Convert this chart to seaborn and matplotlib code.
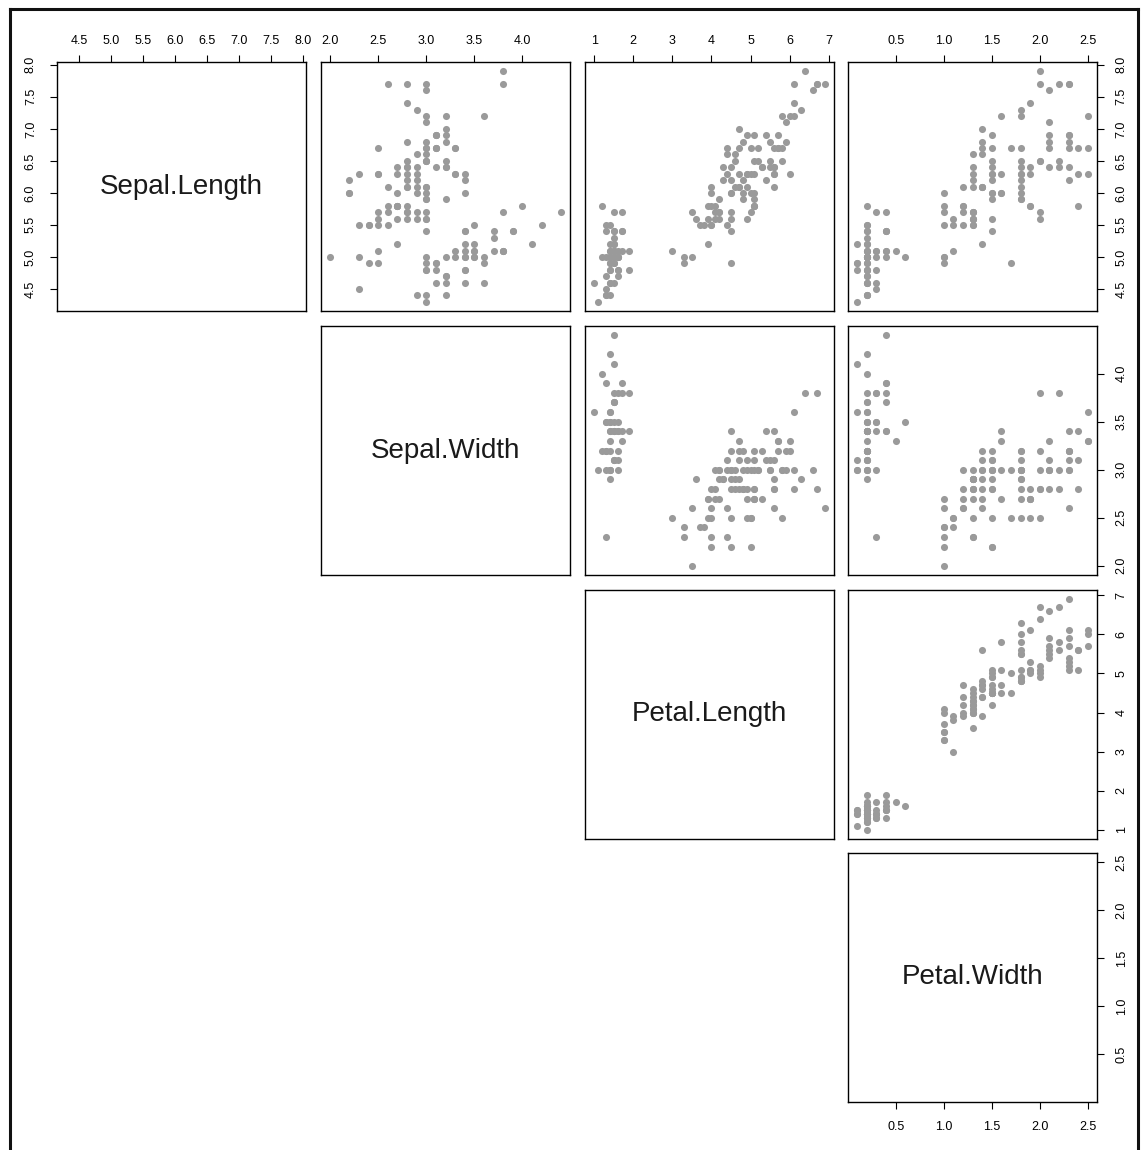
import matplotlib
matplotlib.use("Agg")
import matplotlib.pyplot as plt
from matplotlib.lines import Line2D
import pandas as pd
import seaborn as sns

# Edgar Anderson's iris measurements (150 flowers)
sepal_length = [
    5.1, 4.9, 4.7, 4.6, 5.0, 5.4, 4.6, 5.0, 4.4, 4.9, 5.4, 4.8, 4.8, 4.3, 5.8, 5.7, 5.4, 5.1, 5.7, 5.1,
    5.4, 5.1, 4.6, 5.1, 4.8, 5.0, 5.0, 5.2, 5.2, 4.7, 4.8, 5.4, 5.2, 5.5, 4.9, 5.0, 5.5, 4.9, 4.4, 5.1,
    5.0, 4.5, 4.4, 5.0, 5.1, 4.8, 5.1, 4.6, 5.3, 5.0,
    7.0, 6.4, 6.9, 5.5, 6.5, 5.7, 6.3, 4.9, 6.6, 5.2, 5.0, 5.9, 6.0, 6.1, 5.6, 6.7, 5.6, 5.8, 6.2, 5.6,
    5.9, 6.1, 6.3, 6.1, 6.4, 6.6, 6.8, 6.7, 6.0, 5.7, 5.5, 5.5, 5.8, 6.0, 5.4, 6.0, 6.7, 6.3, 5.6, 5.5,
    5.5, 6.1, 5.8, 5.0, 5.6, 5.7, 5.7, 6.2, 5.1, 5.7,
    6.3, 5.8, 7.1, 6.3, 6.5, 7.6, 4.9, 7.3, 6.7, 7.2, 6.5, 6.4, 6.8, 5.7, 5.8, 6.4, 6.5, 7.7, 7.7, 6.0,
    6.9, 5.6, 7.7, 6.3, 6.7, 7.2, 6.2, 6.1, 6.4, 7.2, 7.4, 7.9, 6.4, 6.3, 6.1, 7.7, 6.3, 6.4, 6.0, 6.9,
    6.7, 6.9, 5.8, 6.8, 6.7, 6.7, 6.3, 6.5, 6.2, 5.9,
]
sepal_width = [
    3.5, 3.0, 3.2, 3.1, 3.6, 3.9, 3.4, 3.4, 2.9, 3.1, 3.7, 3.4, 3.0, 3.0, 4.0, 4.4, 3.9, 3.5, 3.8, 3.8,
    3.4, 3.7, 3.6, 3.3, 3.4, 3.0, 3.4, 3.5, 3.4, 3.2, 3.1, 3.4, 4.1, 4.2, 3.1, 3.2, 3.5, 3.6, 3.0, 3.4,
    3.5, 2.3, 3.2, 3.5, 3.8, 3.0, 3.8, 3.2, 3.7, 3.3,
    3.2, 3.2, 3.1, 2.3, 2.8, 2.8, 3.3, 2.4, 2.9, 2.7, 2.0, 3.0, 2.2, 2.9, 2.9, 3.1, 3.0, 2.7, 2.2, 2.5,
    3.2, 2.8, 2.5, 2.8, 2.9, 3.0, 2.8, 3.0, 2.9, 2.6, 2.4, 2.4, 2.7, 2.7, 3.0, 3.4, 3.1, 2.3, 3.0, 2.5,
    2.6, 3.0, 2.6, 2.3, 2.7, 3.0, 2.9, 2.9, 2.5, 2.8,
    3.3, 2.7, 3.0, 2.9, 3.0, 3.0, 2.5, 2.9, 2.5, 3.6, 3.2, 2.7, 3.0, 2.5, 2.8, 3.2, 3.0, 3.8, 2.6, 2.2,
    3.2, 2.8, 2.8, 2.7, 3.3, 3.2, 2.8, 3.0, 2.8, 3.0, 2.8, 3.8, 2.8, 2.8, 2.6, 3.0, 3.4, 3.1, 3.0, 3.1,
    3.1, 3.1, 2.7, 3.2, 3.3, 3.0, 2.5, 3.0, 3.4, 3.0,
]
petal_length = [
    1.4, 1.4, 1.3, 1.5, 1.4, 1.7, 1.4, 1.5, 1.4, 1.5, 1.5, 1.6, 1.4, 1.1, 1.2, 1.5, 1.3, 1.4, 1.7, 1.5,
    1.7, 1.5, 1.0, 1.7, 1.9, 1.6, 1.6, 1.5, 1.4, 1.6, 1.6, 1.5, 1.5, 1.4, 1.5, 1.2, 1.3, 1.4, 1.3, 1.5,
    1.3, 1.3, 1.3, 1.6, 1.9, 1.4, 1.6, 1.4, 1.5, 1.4,
    4.7, 4.5, 4.9, 4.0, 4.6, 4.5, 4.7, 3.3, 4.6, 3.9, 3.5, 4.2, 4.0, 4.7, 3.6, 4.4, 4.5, 4.1, 4.5, 3.9,
    4.8, 4.0, 4.9, 4.7, 4.3, 4.4, 4.8, 5.0, 4.5, 3.5, 3.8, 3.7, 3.9, 5.1, 4.5, 4.5, 4.7, 4.4, 4.1, 4.0,
    4.4, 4.6, 4.0, 3.3, 4.2, 4.2, 4.2, 4.3, 3.0, 4.1,
    6.0, 5.1, 5.9, 5.6, 5.8, 6.6, 4.5, 6.3, 5.8, 6.1, 5.1, 5.3, 5.5, 5.0, 5.1, 5.3, 5.5, 6.7, 6.9, 5.0,
    5.7, 4.9, 6.7, 4.9, 5.7, 6.0, 4.8, 4.9, 5.6, 5.8, 6.1, 6.4, 5.6, 5.1, 5.6, 6.1, 5.6, 5.5, 4.8, 5.4,
    5.6, 5.1, 5.1, 5.9, 5.7, 5.2, 5.0, 5.2, 5.4, 5.1,
]
petal_width = [
    0.2, 0.2, 0.2, 0.2, 0.2, 0.4, 0.3, 0.2, 0.2, 0.1, 0.2, 0.2, 0.1, 0.1, 0.2, 0.4, 0.4, 0.3, 0.3, 0.3,
    0.2, 0.4, 0.2, 0.5, 0.2, 0.2, 0.4, 0.2, 0.2, 0.2, 0.2, 0.4, 0.1, 0.2, 0.2, 0.2, 0.2, 0.1, 0.2, 0.2,
    0.3, 0.3, 0.2, 0.6, 0.4, 0.3, 0.2, 0.2, 0.2, 0.2,
    1.4, 1.5, 1.5, 1.3, 1.5, 1.3, 1.6, 1.0, 1.3, 1.4, 1.0, 1.5, 1.0, 1.4, 1.3, 1.4, 1.5, 1.0, 1.5, 1.1,
    1.8, 1.3, 1.5, 1.2, 1.3, 1.4, 1.4, 1.7, 1.5, 1.0, 1.1, 1.0, 1.2, 1.6, 1.5, 1.6, 1.5, 1.3, 1.3, 1.3,
    1.2, 1.4, 1.2, 1.0, 1.3, 1.2, 1.3, 1.3, 1.1, 1.3,
    2.5, 1.9, 2.1, 1.8, 2.2, 2.1, 1.7, 1.8, 1.8, 2.5, 2.0, 1.9, 2.1, 2.0, 2.4, 2.3, 1.8, 2.2, 2.3, 1.5,
    2.3, 2.0, 2.0, 1.8, 2.1, 1.8, 1.8, 1.8, 2.1, 1.6, 1.9, 2.0, 2.2, 1.5, 1.4, 2.3, 2.4, 1.8, 1.8, 2.1,
    2.4, 2.3, 1.9, 2.3, 2.5, 2.3, 1.9, 2.0, 2.3, 1.8,
]

var_names = ["Sepal.Length", "Sepal.Width", "Petal.Length", "Petal.Width"]
tick_values = [
    [4.5, 5.0, 5.5, 6.0, 6.5, 7.0, 7.5, 8.0],
    [2.0, 2.5, 3.0, 3.5, 4.0],
    [1, 2, 3, 4, 5, 6, 7],
    [0.5, 1.0, 1.5, 2.0, 2.5],
]
tick_labels = [
    ["4.5", "5.0", "5.5", "6.0", "6.5", "7.0", "7.5", "8.0"],
    ["2.0", "2.5", "3.0", "3.5", "4.0"],
    ["1", "2", "3", "4", "5", "6", "7"],
    ["0.5", "1.0", "1.5", "2.0", "2.5"],
]

iris = pd.DataFrame({
    var_names[0]: sepal_length,
    var_names[1]: sepal_width,
    var_names[2]: petal_length,
    var_names[3]: petal_width,
})

sns.set_style("white")
plt.rcParams["font.family"] = ["Liberation Sans", "DejaVu Sans"]

W, H = 1146, 1150
fig = plt.figure(figsize=(W / 100, H / 100), dpi=100)

# panel grid in pixels (upper triangle of a scatterplot matrix)
col_x = [57, 321, 585, 848]
row_y = [62, 326, 590, 853]
size = 249

point_color = "#9a9a9a"
tick_kw = dict(direction="out", length=5, width=0.8, labelsize=9, colors="black")


def padded_limits(values):
    lo, hi = min(values), max(values)
    pad = 0.04 * (hi - lo)
    return lo - pad, hi + pad


for i in range(4):
    for j in range(i, 4):
        ax = fig.add_axes([col_x[j] / W, 1 - (row_y[i] + size) / H, size / W, size / H])
        ax.set_facecolor("white")

        if i == j:
            ax.text(0.5, 0.5, var_names[i], transform=ax.transAxes, ha="center", va="center",
                    fontsize=20, color="#1a1a1a")
        else:
            sns.scatterplot(data=iris, x=var_names[j], y=var_names[i], ax=ax,
                            color=point_color, s=26, linewidth=0, legend=False)
        ax.set_xlabel("")
        ax.set_ylabel("")
        ax.set_xlim(*padded_limits(iris[var_names[j]]))
        ax.set_ylim(*padded_limits(iris[var_names[i]]))

        for sp in ax.spines.values():
            sp.set_visible(True)
            sp.set_color("black")
            sp.set_linewidth(1.0)

        ax.tick_params(axis="both", which="both", bottom=False, top=False, left=False, right=False,
                       labelbottom=False, labeltop=False, labelleft=False, labelright=False)

        # x axis: top of the first row, bottom of the last panel
        if i == 0 or (i == 3 and j == 3):
            ax.set_xticks(tick_values[j])
            ax.set_xticklabels(tick_labels[j])
            if i == 0:
                ax.tick_params(axis="x", top=True, labeltop=True, pad=5.5, **tick_kw)
            else:
                ax.tick_params(axis="x", bottom=True, labelbottom=True, pad=8.5, **tick_kw)
        else:
            ax.set_xticks([])

        # y axis: left of the first panel, right of the last column
        if j == 3 or (i == 0 and j == 0):
            ax.set_yticks(tick_values[i])
            ax.set_yticklabels(tick_labels[i])
            if j == 3:
                ax.tick_params(axis="y", right=True, labelright=True, pad=8.5,
                               labelrotation=90, **tick_kw)
            if i == 0 and j == 0:
                ax.tick_params(axis="y", left=True, labelleft=True, pad=9.5,
                               labelrotation=90, **tick_kw)
            for lbl in ax.get_yticklabels():
                lbl.set_va("center")
        else:
            ax.set_yticks([])

# window frame
frame_kw = dict(transform=fig.transFigure, color="#111111", linewidth=2.2, solid_capstyle="projecting")
fig.add_artist(Line2D([9.5 / W, 9.5 / W], [0, 1 - 8.5 / H], **frame_kw))
fig.add_artist(Line2D([9.5 / W, 1138 / W], [1 - 8.5 / H, 1 - 8.5 / H], **frame_kw))
fig.add_artist(Line2D([1138 / W, 1138 / W], [0, 1 - 8.5 / H], **frame_kw))

fig.savefig("out.png", dpi=100, facecolor="white")
